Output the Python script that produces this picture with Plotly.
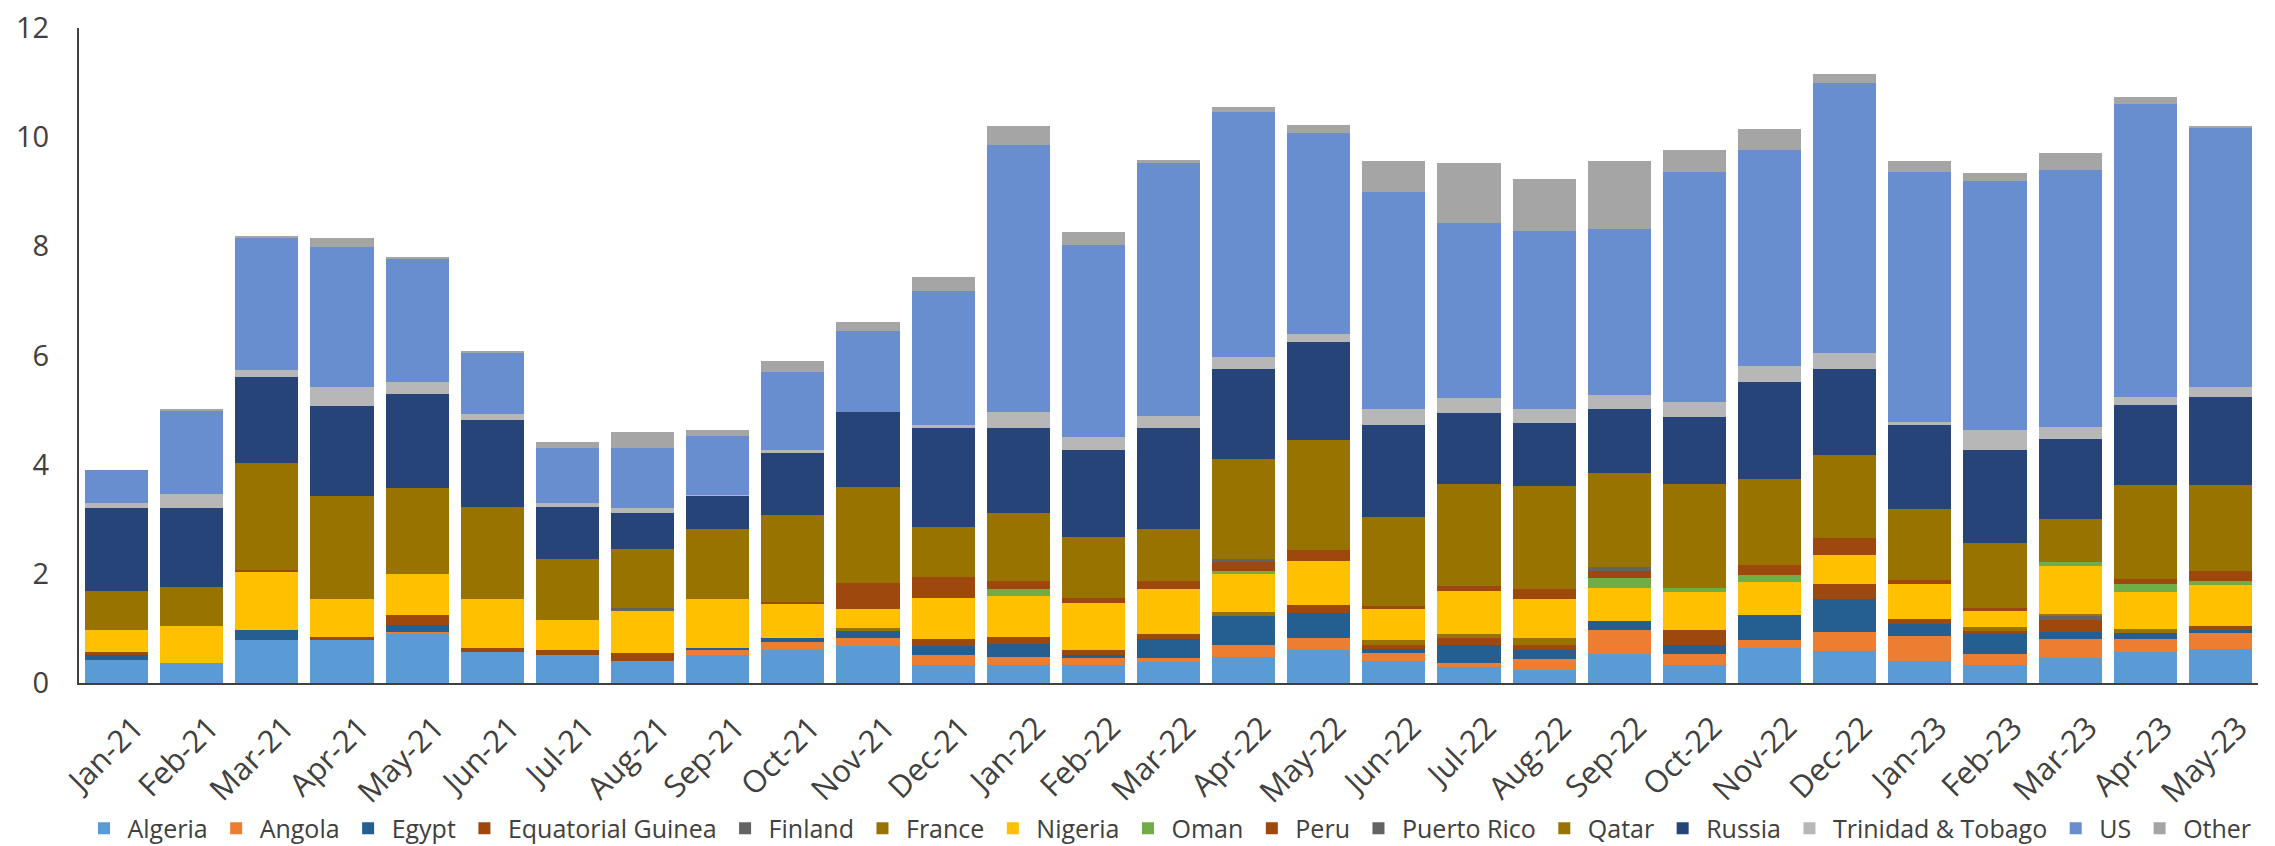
import plotly.graph_objects as go

months = ["Jan-21","Feb-21","Mar-21","Apr-21","May-21","Jun-21","Jul-21","Aug-21","Sep-21","Oct-21",
          "Nov-21","Dec-21","Jan-22","Feb-22","Mar-22","Apr-22","May-22","Jun-22","Jul-22","Aug-22",
          "Sep-22","Oct-22","Nov-22","Dec-22","Jan-23","Feb-23","Mar-23","Apr-23","May-23"]

algeria   = [0.43,0.37,0.78,0.78,0.89,0.56,0.51,0.40,0.51,0.61,0.67,0.33,0.33,0.33,0.39,0.47,0.61,0.40,0.29,0.23,0.53,0.33,0.65,0.59,0.40,0.33,0.46,0.56,0.63]
angola    = [0.00,0.00,0.00,0.00,0.05,0.00,0.00,0.00,0.09,0.15,0.15,0.19,0.14,0.13,0.07,0.22,0.21,0.15,0.08,0.21,0.44,0.20,0.14,0.34,0.46,0.20,0.34,0.24,0.28]
egypt     = [0.08,0.00,0.20,0.00,0.13,0.00,0.00,0.00,0.05,0.06,0.14,0.15,0.24,0.06,0.35,0.53,0.46,0.08,0.32,0.17,0.16,0.16,0.45,0.60,0.23,0.36,0.13,0.12,0.06]
eq_guinea = [0.05,0.00,0.00,0.06,0.18,0.09,0.10,0.15,0.00,0.00,0.00,0.14,0.13,0.08,0.08,0.00,0.15,0.06,0.13,0.08,0.00,0.28,0.00,0.28,0.09,0.06,0.23,0.00,0.08]
finland   = [0.00,0.00,0.00,0.00,0.00,0.00,0.00,0.00,0.00,0.00,0.00,0.00,0.00,0.00,0.00,0.00,0.00,0.00,0.00,0.00,0.00,0.00,0.00,0.00,0.00,0.00,0.08,0.00,0.00]
france    = [0.00,0.00,0.00,0.00,0.00,0.00,0.00,0.00,0.00,0.00,0.04,0.00,0.00,0.00,0.00,0.08,0.00,0.10,0.07,0.13,0.00,0.00,0.00,0.00,0.00,0.08,0.03,0.07,0.00]
nigeria   = [0.42,0.68,1.05,0.69,0.74,0.88,0.54,0.77,0.88,0.64,0.35,0.74,0.76,0.87,0.84,0.70,0.81,0.57,0.79,0.71,0.61,0.69,0.61,0.53,0.63,0.29,0.87,0.67,0.74]
oman      = [0.00,0.00,0.00,0.00,0.00,0.00,0.00,0.00,0.00,0.00,0.00,0.00,0.13,0.00,0.00,0.06,0.00,0.00,0.00,0.00,0.18,0.08,0.13,0.00,0.00,0.00,0.07,0.16,0.07]
peru      = [0.00,0.00,0.04,0.00,0.00,0.00,0.00,0.00,0.00,0.03,0.49,0.39,0.14,0.08,0.14,0.15,0.20,0.05,0.09,0.20,0.13,0.00,0.18,0.31,0.08,0.05,0.00,0.09,0.20]
puerto_rico = [0.00,0.00,0.00,0.00,0.00,0.00,0.00,0.05,0.00,0.00,0.00,0.00,0.00,0.00,0.00,0.06,0.00,0.00,0.00,0.00,0.07,0.00,0.00,0.00,0.00,0.00,0.00,0.00,0.00]
qatar     = [0.70,0.70,1.96,1.90,1.58,1.69,1.12,1.08,1.30,1.59,1.76,0.91,1.24,1.13,0.95,1.84,2.01,1.64,1.88,1.88,1.73,1.91,1.58,1.53,1.30,1.19,0.80,1.72,1.57]
russia    = [1.52,1.46,1.57,1.65,1.72,1.60,0.96,0.67,0.60,1.13,1.37,1.83,1.57,1.58,1.86,1.65,1.80,1.68,1.30,1.16,1.17,1.22,1.77,1.57,1.54,1.70,1.46,1.46,1.61]
trinidad  = [0.10,0.26,0.14,0.35,0.22,0.10,0.07,0.08,0.02,0.06,0.00,0.04,0.29,0.25,0.21,0.22,0.15,0.29,0.28,0.25,0.25,0.28,0.29,0.30,0.06,0.37,0.22,0.15,0.18]
us        = [0.60,1.53,2.42,2.56,2.26,1.14,1.01,1.11,1.08,1.43,1.47,2.46,4.88,3.51,4.63,4.49,3.68,3.97,3.19,3.26,3.05,4.22,3.96,4.95,4.58,4.57,4.70,5.36,4.75]
other     = [0.00,0.02,0.02,0.17,0.02,0.02,0.11,0.28,0.10,0.20,0.17,0.26,0.35,0.25,0.06,0.08,0.15,0.57,1.10,0.96,1.24,0.39,0.39,0.15,0.19,0.15,0.32,0.14,0.04]

series = [
    ("Algeria", algeria, "#5B9BD5"),
    ("Angola", angola, "#ED7D31"),
    ("Egypt", egypt, "#255E91"),
    ("Equatorial Guinea", eq_guinea, "#9E480E"),
    ("Finland", finland, "#636363"),
    ("France", france, "#997300"),
    ("Nigeria", nigeria, "#FFC000"),
    ("Oman", oman, "#70AD47"),
    ("Peru", peru, "#9E480E"),
    ("Puerto Rico", puerto_rico, "#636363"),
    ("Qatar", qatar, "#997300"),
    ("Russia", russia, "#264478"),
    ("Trinidad & Tobago", trinidad, "#B7B7B7"),
    ("US", us, "#698ED0"),
    ("Other", other, "#A5A5A5"),
]

fig = go.Figure()
for name, vals, color in series:
    fig.add_trace(go.Bar(x=months, y=vals, name=name,
                         marker=dict(color=color, line=dict(width=0))))

fig.update_layout(
    barmode="stack",
    bargap=0.16,
    width=2275, height=846,
    margin=dict(l=71, r=25, t=20, b=171, autoexpand=False),
    paper_bgcolor="white", plot_bgcolor="white",
    font=dict(family="Open Sans, sans-serif", color="#404040", size=20),
    showlegend=True,
    legend=dict(orientation="h", x=0.5, xanchor="center",
                yref="container", y=0.03, yanchor="middle",
                font=dict(size=25, color="#404040"), traceorder="normal", itemwidth=37),
    xaxis=dict(type="category", tickangle=-45, showline=True, linecolor="#404040", linewidth=2,
               ticks="", tickfont=dict(size=31, color="#404040"), showgrid=False,
               ticklabelshift=18, ticklabelstandoff=12),
    yaxis=dict(range=[0, 12], dtick=2, showline=True, linecolor="#404040", linewidth=2,
               ticks="", showgrid=False, zeroline=False, tickfont=dict(size=29, color="#404040"),
               ticklabelstandoff=22, ticklabeloverflow="allow"),
)

fig.write_html("out.html")
